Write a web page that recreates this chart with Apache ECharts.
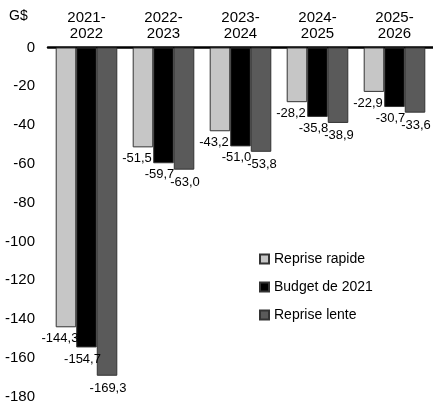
<!DOCTYPE html>
<html>
<head>
<meta charset="utf-8">
<script src="https://cdn.jsdelivr.net/npm/echarts@6/dist/echarts.min.js"></script>
<style>
html,body{margin:0;padding:0;background:#fff;}
#chart{width:433px;height:407px;}
</style>
</head>
<body>
<div id="chart"></div>
<script>
const categories = ['2021-\n2022', '2022-\n2023', '2023-\n2024', '2024-\n2025', '2025-\n2026'];
const seriesNames = ['Reprise rapide', 'Budget de 2021', 'Reprise lente'];
const repriseRapide = [-144.3, -51.5, -43.2, -28.2, -22.9];
const budget2021 = [-154.7, -59.7, -51.0, -35.8, -30.7];
const repriseLente = [-169.3, -63.0, -53.8, -38.9, -33.6];
const yTicks = { min: -180, max: 0, interval: 20 };

const FONT = '"Liberation Sans", Arial, sans-serif';
const fmt = v => v.toFixed(1).replace('.', ',');

function makeSeries(name, data, color, offset, dist) {
  return {
    name: name,
    type: 'bar',
    data: data,
    barGap: '0%',
    barCategoryGap: '20%',
    itemStyle: { color: color, borderColor: '#333333', borderWidth: 1 },
    label: {
      show: true,
      position: 'bottom',
      distance: dist,
      offset: offset,
      formatter: p => fmt(p.value),
      fontFamily: FONT,
      fontSize: 13,
      color: '#000'
    }
  };
}

const chart = echarts.init(document.getElementById('chart'), null, { renderer: 'canvas' });
chart.setOption({
  animation: false,
  backgroundColor: '#ffffff',
  textStyle: { fontFamily: FONT },
  title: {
    text: 'G$',
    left: 4,
    top: 4,
    textStyle: { fontFamily: FONT, fontSize: 14, fontWeight: 'normal', color: '#000' }
  },
  legend: {
    orient: 'vertical',
    left: 254,
    top: 247,
    itemWidth: 9,
    itemHeight: 9,
    itemGap: 14,
    icon: 'rect',
    textStyle: { fontFamily: FONT, fontSize: 14, color: '#000' },
    data: seriesNames
  },
  grid: { left: 48, right: -3, top: 47.5, bottom: 10.5 },
  xAxis: {
    type: 'category',
    position: 'top',
    data: categories,
    axisLine: { show: true, lineStyle: { color: '#000', width: 2.5 } },
    axisTick: { show: false },
    axisLabel: { fontFamily: FONT, fontSize: 15, lineHeight: 16.5, color: '#000', margin: 5 }
  },
  yAxis: {
    type: 'value',
    min: yTicks.min,
    max: yTicks.max,
    interval: yTicks.interval,
    axisLine: { show: false },
    axisTick: { show: false },
    splitLine: { show: false },
    axisLabel: { fontFamily: FONT, fontSize: 15, color: '#000', margin: 13 }
  },
  series: [
    makeSeries(seriesNames[0], repriseRapide, '#c6c6c6', [-6, 0], 5),
    makeSeries(seriesNames[1], budget2021, '#000000', [-4, 0], 5),
    makeSeries(seriesNames[2], repriseLente, '#5a5a5a', [1, 0], 6)
  ]
});
</script>
</body>
</html>
